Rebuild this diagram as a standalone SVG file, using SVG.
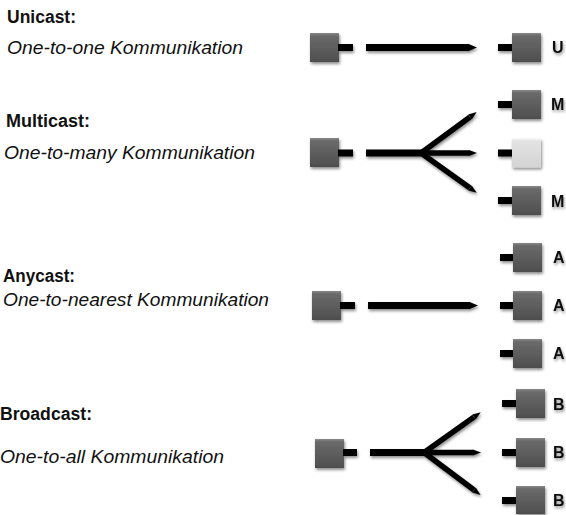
<svg xmlns="http://www.w3.org/2000/svg" width="566" height="515" viewBox="0 0 566 515">
<style>
.t{font-family:"Liberation Sans",Arial,sans-serif;fill:#111}
.h{font-weight:bold;font-size:18px}
.d{font-style:italic;font-size:18px}
.r{font-weight:bold;font-size:16px}
.ln{stroke:#000;stroke-width:7;fill:none}
.br{stroke:#000;stroke-width:5.5;fill:none;stroke-linecap:butt}
.stub{fill:#000}
</style>
<defs>
<linearGradient id="gd" x1="0" y1="0" x2="0" y2="1">
<stop offset="0" stop-color="#8a8a8a"/>
<stop offset="0.1" stop-color="#6a6a6a"/>
<stop offset="1" stop-color="#4e4e4e"/>
</linearGradient>
<linearGradient id="gl" x1="0" y1="0" x2="0" y2="1">
<stop offset="0" stop-color="#f4f4f4"/>
<stop offset="0.1" stop-color="#e2e2e2"/>
<stop offset="1" stop-color="#d4d4d4"/>
</linearGradient>
<filter id="sh" x="-30%" y="-30%" width="160%" height="160%">
<feGaussianBlur in="SourceAlpha" stdDeviation="1.5"/>
<feOffset dx="1" dy="2" result="b"/>
<feComponentTransfer><feFuncA type="linear" slope="0.45"/></feComponentTransfer>
<feMerge><feMergeNode/><feMergeNode in="SourceGraphic"/></feMerge>
</filter>
<marker id="ah" viewBox="0 -5 10 10" refX="0" refY="0" markerWidth="1.3" markerHeight="1.5" markerUnits="strokeWidth" orient="auto">
<path d="M0,-4 L10,0 L0,4 Z" fill="#000"/>
</marker>
<marker id="ahb" viewBox="0 -5 10 10" refX="0" refY="0" markerWidth="1.5" markerHeight="1.6" markerUnits="strokeWidth" orient="auto">
<path d="M0,-3.6 L10,0 L0,3.6 Z" fill="#000"/>
</marker>
</defs>

<g id="labels">
<text class="t h" x="7" y="23" textLength="69" lengthAdjust="spacingAndGlyphs">Unicast:</text>
<text class="t d" x="7" y="54" textLength="236" lengthAdjust="spacingAndGlyphs">One-to-one Kommunikation</text>
<text class="t h" x="6" y="127" textLength="84" lengthAdjust="spacingAndGlyphs">Multicast:</text>
<text class="t d" x="4" y="159" textLength="251" lengthAdjust="spacingAndGlyphs">One-to-many Kommunikation</text>
<text class="t h" x="3" y="282" textLength="72" lengthAdjust="spacingAndGlyphs">Anycast:</text>
<text class="t d" x="3" y="306" textLength="266" lengthAdjust="spacingAndGlyphs">One-to-nearest Kommunikation</text>
<text class="t h" x="0" y="420" textLength="92" lengthAdjust="spacingAndGlyphs">Broadcast:</text>
<text class="t d" x="0" y="463" textLength="224" lengthAdjust="spacingAndGlyphs">One-to-all Kommunikation</text>
</g>

<g id="connectors" filter="url(#sh)">
<line class="ln" x1="366" y1="47.5" x2="468" y2="47.5" marker-end="url(#ah)"/>
<line class="ln" x1="366" y1="153" x2="424" y2="153"/>
<line class="br" x1="421" y1="153" x2="470" y2="117" marker-end="url(#ahb)"/>
<line class="br" x1="421" y1="153" x2="469" y2="153" marker-end="url(#ahb)"/>
<line class="br" x1="421" y1="153" x2="470" y2="188" marker-end="url(#ahb)"/>
<line class="ln" x1="368" y1="305.5" x2="469" y2="305.5" marker-end="url(#ah)"/>
<line class="ln" x1="370" y1="452.5" x2="427" y2="452.5"/>
<line class="br" x1="424" y1="452.5" x2="474" y2="417" marker-end="url(#ahb)"/>
<line class="br" x1="424" y1="452.5" x2="473" y2="452.5" marker-end="url(#ahb)"/>
<line class="br" x1="424" y1="452.5" x2="474" y2="490" marker-end="url(#ahb)"/>
</g>

<g id="uni-src" filter="url(#sh)"><rect x="310" y="33" width="29" height="29" fill="url(#gd)"/><rect class="stub" x="338" y="44" width="15" height="7"/></g>
<g id="uni-dst" filter="url(#sh)"><rect class="stub" x="498" y="44" width="15" height="7"/><rect x="512" y="33" width="29" height="29" fill="url(#gd)"/><text class="t r" x="552" y="53">U</text></g>

<g id="multi-src" filter="url(#sh)"><rect x="310" y="138" width="29" height="29" fill="url(#gd)"/><rect class="stub" x="338" y="149.5" width="15" height="7"/></g>
<g id="multi-dst1" filter="url(#sh)"><rect class="stub" x="498" y="101" width="15" height="7"/><rect x="512" y="90" width="29" height="29" fill="url(#gd)"/><text class="t r" x="551" y="110">M</text></g>
<g id="multi-dst2" filter="url(#sh)"><rect class="stub" x="498" y="149.5" width="15" height="7"/><rect x="512" y="138.5" width="29" height="29" fill="url(#gl)"/></g>
<g id="multi-dst3" filter="url(#sh)"><rect class="stub" x="498" y="197" width="15" height="7"/><rect x="512" y="186" width="29" height="29" fill="url(#gd)"/><text class="t r" x="551" y="207">M</text></g>

<g id="any-src" filter="url(#sh)"><rect x="312" y="291" width="29" height="29" fill="url(#gd)"/><rect class="stub" x="340" y="302" width="15" height="7"/></g>
<g id="any-dst1" filter="url(#sh)"><rect class="stub" x="500" y="254" width="14" height="7"/><rect x="513" y="243" width="29" height="29" fill="url(#gd)"/><text class="t r" x="553" y="263">A</text></g>
<g id="any-dst2" filter="url(#sh)"><rect class="stub" x="500" y="302" width="14" height="7"/><rect x="513" y="291" width="29" height="29" fill="url(#gd)"/><text class="t r" x="553" y="311">A</text></g>
<g id="any-dst3" filter="url(#sh)"><rect class="stub" x="500" y="350" width="14" height="7"/><rect x="513" y="339" width="29" height="29" fill="url(#gd)"/><text class="t r" x="553" y="359">A</text></g>

<g id="broad-src" filter="url(#sh)"><rect x="315" y="439" width="29" height="29" fill="url(#gd)"/><rect class="stub" x="343" y="449" width="14" height="7"/></g>
<g id="broad-dst1" filter="url(#sh)"><rect class="stub" x="502" y="400" width="15" height="7"/><rect x="516" y="389" width="29" height="29" fill="url(#gd)"/><text class="t r" x="553" y="410">B</text></g>
<g id="broad-dst2" filter="url(#sh)"><rect class="stub" x="502" y="449" width="15" height="7"/><rect x="516" y="438" width="29" height="29" fill="url(#gd)"/><text class="t r" x="553" y="458">B</text></g>
<g id="broad-dst3" filter="url(#sh)"><rect class="stub" x="502" y="497" width="15" height="7"/><rect x="516" y="486" width="29" height="28" fill="url(#gd)"/><text class="t r" x="553" y="506">B</text></g>
</svg>
